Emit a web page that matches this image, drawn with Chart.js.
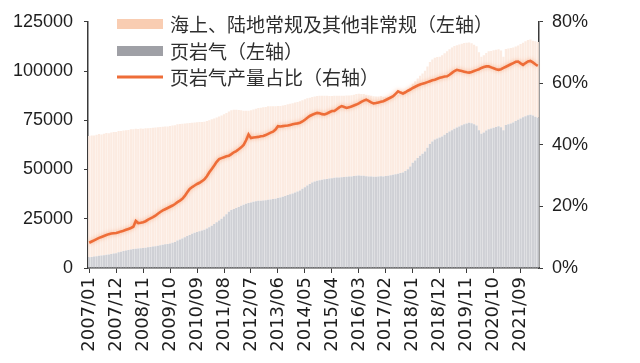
<!DOCTYPE html>
<html>
<head>
<meta charset="utf-8">
<script src="https://cdn.jsdelivr.net/npm/chart.js@4.4.1/dist/chart.umd.min.js"></script>
<style>
  html, body { margin: 0; padding: 0; background: #ffffff; }
  #wrap { width: 640px; height: 363px; }
</style>
</head>
<body>
<div id="wrap"><canvas id="c" width="640" height="363"></canvas></div>
<script>
// ---- DATA (monthly, 2007/01 - 2022/04) ----
const months = [];
for (let y = 2007; y <= 2022; y++) {
  for (let m = 1; m <= 12; m++) {
    if (y === 2022 && m > 4) break;
    months.push(y + '/' + String(m).padStart(2, '0'));
  }
}

const tickLabels = ['2007/01','2007/12','2008/11','2009/10','2010/09','2011/08','2012/07','2013/06',
  '2014/05','2015/04','2016/03','2017/02','2018/01','2018/12','2019/11','2020/10','2021/09'];

// 页岩气（左轴）
const shaleGas = [
  5500, 5600, 5800, 6000, 6200, 6400, 6500, 6700, 6900, 7100, 7300, 7500,            // 2007
  8000, 8300, 8600, 8900, 9200, 9400, 9600, 9800, 9900, 10000, 10100, 10300,         // 2008
  10500, 10700, 10900, 11100, 11300, 11600, 11800, 12000, 12200, 12500, 12800, 13200,// 2009
  14000, 14500, 15000, 15600, 16200, 16800, 17400, 17900, 18300, 18700, 19000, 19400,// 2010
  20000, 20700, 21500, 22300, 23200, 24100, 25000, 26100, 27300, 28500, 29500, 30000,// 2011
  30500, 31000, 31600, 32100, 32600, 33000, 33300, 33600, 33900, 34100, 34200, 34300,// 2012
  34400, 34600, 34800, 35000, 35200, 35500, 35800, 36200, 36600, 37000, 37400, 37800,// 2013
  38300, 38800, 39400, 40200, 41000, 41900, 42700, 43400, 43900, 44300, 44600, 44800,// 2014
  45000, 45200, 45400, 45600, 45800, 45900, 46000, 46100, 46200, 46300, 46400, 46500,// 2015
  46700, 46900, 47000, 46900, 46800, 46600, 46500, 46400, 46300, 46300, 46400, 46600,// 2016
  46500, 46700, 46900, 47100, 47300, 47600, 47900, 48200, 48500, 49200, 50200, 51500,// 2017
  53500, 54600, 55800, 57000, 58000, 59200, 61000, 63000, 64200, 65200, 65800, 66300,// 2018
  66800, 67600, 68500, 69300, 70000, 70700, 71300, 71900, 72500, 73000, 73400, 73700,// 2019
  73500, 73000, 72400, 70000, 68200, 68800, 69800, 70500, 70800, 71200, 71600, 72000,// 2020
  71500, 70000, 72600, 73000, 73400, 73900, 74600, 75300, 75900, 76500, 77100, 77600,// 2021
  77800, 77400, 76800, 76300                                                          // 2022
];

// 海上、陆地常规及其他非常规（左轴）
const otherGas = [
  61500, 61700, 61500, 61600, 61800, 61400, 61700, 61900, 61500, 61700, 61800, 61600,// 2007
  61500, 61300, 61200, 61000, 60900, 61100, 60800, 60900, 60700, 60800, 60600, 60700,// 2008
  60500, 60400, 60300, 60200, 60100, 60000, 59900, 59800, 59700, 59600, 59500, 59300,// 2009
  59000, 58600, 58200, 57800, 57300, 56800, 56400, 56000, 55700, 55400, 55100, 54900,// 2010
  54600, 54300, 54000, 53600, 53200, 52800, 52400, 51900, 51400, 51000, 50600, 50300,// 2011
  49800, 49200, 48500, 47800, 47200, 46800, 46800, 46900, 47000, 47100, 47200, 47300,// 2012
  47400, 47500, 47300, 47100, 46900, 46700, 46500, 46300, 46200, 46100, 46000, 45900,// 2013
  45700, 45500, 45300, 45000, 44700, 44300, 43700, 43400, 43200, 43000, 42800, 42700,// 2014
  42500, 42200, 41900, 41700, 41600, 41500, 41400, 41400, 41300, 41300, 41200, 41200,// 2015
  41300, 41400, 41500, 41500, 41500, 41400, 41200, 41000, 40900, 40800, 40700, 40700,// 2016
  40500, 40300, 40100, 39900, 39800, 39800, 39900, 40000, 40000, 40100, 40200, 40300,// 2017
  40000, 40200, 40400, 40600, 40800, 41000, 41300, 41600, 41700, 41500, 41300, 41000,// 2018
  41200, 41400, 41600, 41800, 42000, 42000, 41800, 41600, 41400, 41200, 41000, 40800,// 2019
  40600, 40400, 40200, 39600, 39000, 39200, 39400, 39500, 39400, 39300, 39200, 39100,// 2020
  38900, 37200, 38600, 38500, 38300, 38100, 37900, 37700, 37800, 37900, 38000, 38100,// 2021
  38200, 38000, 38300, 38500                                                          // 2022
];

// 页岩气产量占比（右轴, %）
const shaleShare = [
  8.2, 8.6, 9.0, 9.4, 9.8, 10.1, 10.4, 10.7, 11.0, 11.2, 11.3, 11.4,      // 2007
  11.6, 11.9, 12.1, 12.4, 12.7, 13.0, 13.4, 15.3, 14.6, 14.7, 14.9, 15.2, // 2008
  15.7, 16.1, 16.5, 17.0, 17.6, 18.2, 18.7, 19.1, 19.5, 19.9, 20.3, 20.8, // 2009
  21.4, 21.9, 22.5, 23.4, 24.6, 25.7, 26.3, 26.8, 27.3, 27.7, 28.2, 28.8, // 2010
  29.8, 31.1, 32.2, 33.3, 34.5, 35.4, 35.7, 36.0, 36.3, 36.5, 37.0, 37.6, // 2011
  38.0, 38.6, 39.2, 40.0, 41.5, 43.4, 42.2, 42.4, 42.5, 42.6, 42.8, 42.9, // 2012
  43.2, 43.6, 44.0, 44.3, 45.0, 46.1, 46.0, 46.1, 46.2, 46.3, 46.5, 46.7, // 2013
  46.9, 47.0, 47.2, 47.6, 48.2, 48.8, 49.4, 49.8, 50.1, 50.4, 50.3, 50.0, // 2014
  49.9, 50.2, 50.6, 51.0, 51.0, 51.6, 52.2, 52.6, 52.3, 52.0, 52.2, 52.5, // 2015
  52.8, 53.1, 53.5, 54.0, 54.4, 54.7, 54.3, 53.8, 53.5, 53.6, 53.8, 54.0, // 2016
  54.2, 54.6, 55.0, 55.4, 55.8, 56.6, 57.4, 57.0, 56.7, 57.1, 57.6, 58.0, // 2017
  58.5, 58.9, 59.3, 59.6, 59.9, 60.1, 60.4, 60.7, 61.0, 61.2, 61.5, 61.8, // 2018
  62.0, 62.2, 62.3, 62.8, 63.4, 64.0, 64.4, 64.2, 64.0, 63.8, 63.6, 63.5, // 2019
  63.7, 64.0, 64.3, 64.6, 65.0, 65.3, 65.5, 65.5, 65.2, 64.9, 64.6, 64.4, // 2020
  64.6, 65.0, 65.4, 65.8, 66.2, 66.6, 67.0, 67.1, 66.5, 66.0, 66.6, 67.1, // 2021
  67.3, 66.8, 66.2, 65.7                                                   // 2022
];

const leftTicks = [0, 25000, 50000, 75000, 100000, 125000];
const rightTicks = [0, 20, 40, 60, 80];

// ---- STYLE ----
const AXIS_COLOR = '#3a3a3a';
const TEXT_COLOR = '#1e1e1e';
const ORANGE = '#ee6d38';
const GREY_BAR = '#cfd0d5';
const PEACH_BAR = '#fcebe1';
const GREY_KEY = '#9fa0a6';
const PEACH_KEY = '#f9cdb2';

const legendPlugin = {
  id: 'insideLegend',
  afterDraw(chart) {
    const ctx = chart.ctx;
    const ds = chart.data.datasets;
    const rows = [
      { d: ds[2], y: 24, kind: 'box', color: PEACH_KEY },
      { d: ds[1], y: 51, kind: 'box', color: GREY_KEY },
      { d: ds[0], y: 77, kind: 'line', color: ORANGE }
    ];
    ctx.save();
    rows.forEach(r => {
      if (r.kind === 'box') {
        ctx.fillStyle = r.color;
        ctx.fillRect(117, r.y - 5, 46, 10);
      } else {
        ctx.strokeStyle = r.color;
        ctx.lineWidth = 3;
        ctx.beginPath();
        ctx.moveTo(117, r.y);
        ctx.lineTo(163, r.y);
        ctx.stroke();
      }
      ctx.fillStyle = '#2e2e2e';
      ctx.font = '19px "Noto Sans CJK SC"';
      ctx.textBaseline = 'middle';
      ctx.textAlign = 'left';
      ctx.fillText(r.d.label, 170, r.y + 1);
    });
    ctx.restore();
  }
};

const glowPlugin = {
  id: 'glow',
  beforeDatasetDraw(chart, args) {
    if (args.index === 0) {
      chart.ctx.save();
      chart.ctx.shadowColor = 'rgba(246,150,100,0.7)';
      chart.ctx.shadowBlur = 4;
    }
  },
  afterDatasetDraw(chart, args) {
    if (args.index === 0) chart.ctx.restore();
  }
};

new Chart(document.getElementById('c'), {
  type: 'bar',
  data: {
    labels: months,
    datasets: [
      {
        type: 'line',
        label: '页岩气产量占比（右轴）',
        data: shaleShare,
        yAxisID: 'y1',
        borderColor: ORANGE,
        borderWidth: 2.6,
        pointRadius: 0,
        tension: 0,
        order: 0
      },
      {
        label: '页岩气（左轴）',
        data: shaleGas,
        backgroundColor: GREY_BAR,
        yAxisID: 'y',
        stack: 's',
        order: 1,
        barPercentage: 0.9,
        categoryPercentage: 1.0
      },
      {
        label: '海上、陆地常规及其他非常规（左轴）',
        data: otherGas,
        backgroundColor: PEACH_BAR,
        yAxisID: 'y',
        stack: 's',
        order: 1,
        barPercentage: 0.9,
        categoryPercentage: 1.0
      }
    ]
  },
  options: {
    responsive: false,
    animation: false,
    devicePixelRatio: 1,
    layout: { padding: { top: 20, left: 0, right: 0, bottom: 0 } },
    plugins: { legend: { display: false }, tooltip: { enabled: false } },
    scales: {
      x: {
        stacked: true,
        offset: true,
        grid: { display: true, drawOnChartArea: false, offset: false, tickLength: 5, color: AXIS_COLOR, tickWidth: 1 },
        border: { display: true, color: AXIS_COLOR, width: 1.5 },
        ticks: {
          autoSkip: false,
          maxRotation: 90,
          minRotation: 90,
          padding: 4,
          color: TEXT_COLOR,
          font: { family: 'DejaVu Sans', size: 18 },
          callback: function (v, i) {
            const l = months[i];
            return tickLabels.includes(l) ? l : null;
          }
        },
        afterFit: s => { s.height = 95; }
      },
      y: {
        stacked: true,
        position: 'left',
        min: 0,
        max: 125000,
        afterBuildTicks: s => { s.ticks = leftTicks.map(v => ({ value: v })); },
        grid: { display: true, drawOnChartArea: false, tickLength: 4, color: AXIS_COLOR },
        border: { display: true, color: AXIS_COLOR, width: 1.5 },
        ticks: {
          padding: 11,
          color: TEXT_COLOR,
          font: { family: 'Liberation Sans', size: 18 },
          callback: v => String(v)
        },
        afterFit: s => { s.width = 88; }
      },
      y1: {
        position: 'right',
        min: 0,
        max: 80,
        afterBuildTicks: s => { s.ticks = rightTicks.map(v => ({ value: v })); },
        grid: { display: true, drawOnChartArea: false, tickLength: 4, color: AXIS_COLOR },
        border: { display: true, color: AXIS_COLOR, width: 1.5 },
        ticks: {
          padding: 9,
          color: TEXT_COLOR,
          font: { family: 'Liberation Sans', size: 18 },
          callback: v => v + '%'
        },
        afterFit: s => { s.width = 101; }
      }
    }
  },
  plugins: [glowPlugin, legendPlugin]
});
</script>
</body>
</html>
